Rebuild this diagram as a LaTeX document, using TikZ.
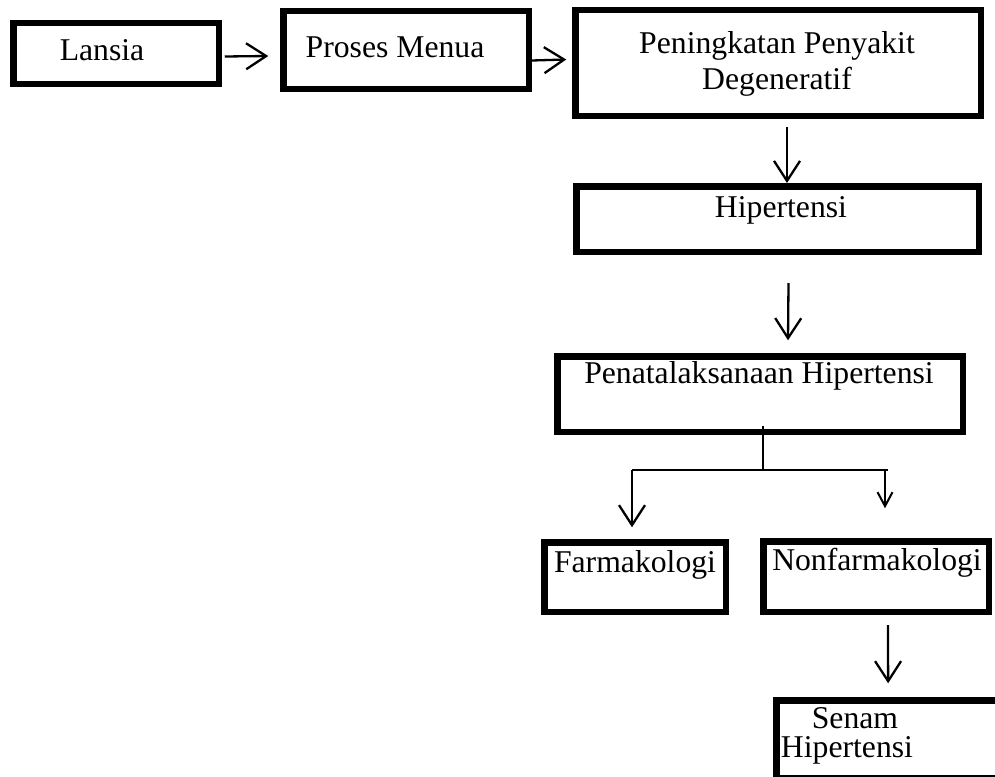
\documentclass[tikz,border=0pt]{standalone}
\usepackage{fontspec}
\setmainfont{Liberation Serif}
\usetikzlibrary{arrows.meta,calc}
\begin{document}
\begin{tikzpicture}[x=1pt,y=-1pt,
  box/.style={draw, line width=6.5pt, inner sep=0pt, outer sep=0pt},
  lbl/.style={anchor=base, inner sep=0pt, font=\fontsize{31.7}{36}\selectfont},
  arr/.style={line width=2.3pt, -{Straight Barb[length=20pt,width=26pt,line width=2.3pt]}},
  sarr/.style={line width=2pt, -{Straight Barb[length=14pt,width=15pt,line width=2pt]}},
  ln/.style={line width=2pt}]
\useasboundingbox (0,0) rectangle (995,776);
\fill[white] (0,0) rectangle (995,776);
% boxes
\node[box, minimum width=205.5pt, minimum height=60.5pt] (lansia) at (116,53.5) {};
\node[box, minimum width=245.5pt, minimum height=77.5pt] (proses) at (406,50) {};
\node[box, minimum width=405.5pt, minimum height=105.5pt] (pening) at (778,63) {};
\node[box, minimum width=402.5pt, minimum height=65.5pt] (hiper) at (777.5,219) {};
\node[box, minimum width=405.5pt, minimum height=75.5pt] (penata) at (760,394) {};
\node[box, minimum width=181.5pt, minimum height=69.5pt] (farma) at (635,577) {};
\node[box, minimum width=225.5pt, minimum height=70.5pt] (nonfarma) at (876,576.5) {};
\node[box, minimum width=233.75pt, minimum height=77.5pt] (senam) at (893.125,739) {};
% labels
\node[lbl] (tlansia) at (102,60) {Lansia};
\node[lbl] (tproses) at (395,58) {Proses Menua};
\node[lbl] (tpen1) at (777,53) {Peningkatan Penyakit};
\node[lbl] (tpen2) at (777,89) {Degeneratif};
\node[lbl] (thiper) at (781,217) {Hipertensi};
\node[lbl] (tpenata) at (759,383) {Penatalaksanaan Hipertensi};
\node[lbl] (tfarma) at (635,572) {Farmakologi};
\node[lbl] (tnonfarma) at (877,570) {Nonfarmakologi};
\node[lbl] (tsenam1) at (855,728) {Senam};
\node[lbl] (tsenam2) at (847,757) {Hipertensi};
% connectors
\draw[arr] ($(lansia.east)+(6,3)$) -- ($(proses.west)+(-15,6)$);
\draw[arr] ($(proses.east)+(3.25,10.5)$) -- ($(pening.west)+(-9,-3.5)$);
\draw[arr] ($(pening.south)+(9,11.25)$) -- ($(hiper.north)+(9.5,-3.25)$);
\draw[arr] ($(hiper.south)+(11,31.25)$) -- ($(penata.north)+(28,-16)$);
\coordinate (br) at ($(penata.south)+(3,38.25)$);
\coordinate (brl) at ($(farma.north)+(-3,-72.25)$);
\coordinate (brr) at ($(nonfarma.north)+(12,-71.25)$);
\draw[ln] ($(penata.south)+(3,-5.75)$) -- (br);
\draw[ln] (brl) -- (brr);
\draw[arr] (brl) -- ($(farma.north)+(-3,-15)$);
\draw[sarr] ($(nonfarma.north)+(9,-71.25)$) -- ($(nonfarma.north)+(9,-33)$);
\draw[arr] ($(nonfarma.south)+(12,13.25)$) -- ($(senam.north)+(-5,-17)$);
\end{tikzpicture}
\end{document}
